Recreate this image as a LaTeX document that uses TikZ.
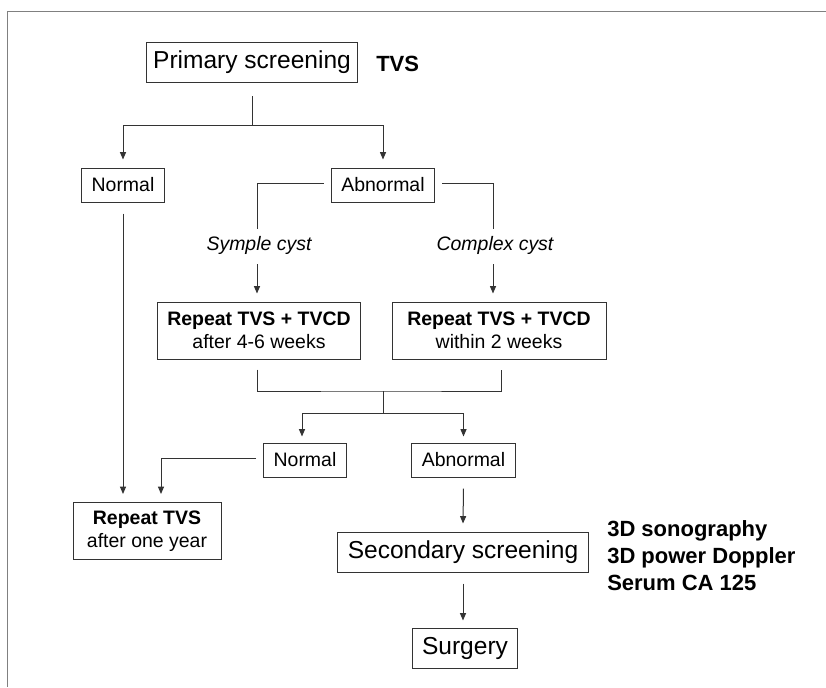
\documentclass[tikz,border=0pt]{standalone}
\usepackage{fontspec}
\setmainfont{Liberation Sans}
\usetikzlibrary{arrows.meta, calc, positioning}
\definecolor{fcline}{HTML}{333333}
\definecolor{fcframe}{HTML}{808080}
\newcommand{\txtsz}{\fontsize{14.6}{17.3}\selectfont}
\newcommand{\bigsz}{\fontsize{18.4}{21}\selectfont}
\newcommand{\notesz}{\fontsize{16.5}{20.25}\selectfont}
\tikzset{
  every picture/.style={line join=miter},
  box/.style={rectangle, draw=fcline, line width=0.75pt, font=\txtsz,
    inner xsep=7.5pt, inner ysep=0pt, minimum height=25.5pt, align=center},
  bigbox/.style={box, font=\bigsz, minimum height=30pt},
  twobox/.style={box, minimum height=42.75pt},
  case/.style={font=\txtsz\itshape, inner sep=0pt},
  note/.style={font=\notesz\bfseries, inner sep=0pt, align=left},
  link/.style={draw=fcline, line width=0.75pt},
  arrow/.style={link, -{Triangle[length=5.5pt, width=4.5pt]}},
  frame/.style={draw=fcframe, line width=0.75pt},
}
\begin{document}
\begin{tikzpicture}[x=0.75pt, y=-0.75pt]
\useasboundingbox (0,0) rectangle (826,687);
\draw[frame] (826,11) -- (7,11) -- (7,687);

% ---- first screening
\node[bigbox, inner xsep=5pt] (prim) at (252,62.5) {Primary screening};
\node[note, anchor=west] (tvs) at (376,64) {TVS};
\node[box] (norm1) at (123,185) {Normal};
\node[box] (abn1)  at (383,185) {Abnormal};

\coordinate (s1) at ($(prim.south)+(0,42)$);
\draw[link] ($(prim.south)+(0,13)$) -- (s1);
\draw[arrow] (s1) -| ($(norm1.north)+(0,-8)$);
\draw[arrow] (s1) -| ($(abn1.north)+(0,-8)$);

% ---- kind of cyst
\node[case] (simple)  at (259,245) {Symple cyst};
\node[case] (complex) at (495,245) {Complex cyst};
\node[twobox] (rep1) at (259,330.5) {\textbf{Repeat TVS + TVCD}\\after 4-6 weeks};
\node[twobox, minimum width=160.5pt] (rep2) at (499,330.5) {\textbf{Repeat TVS + TVCD}\\within 2 weeks};

\draw[link] ($(abn1.west)+(-7,-2)$) -| ($(simple.north)+(-2,-7)$);
\draw[link] ($(abn1.east)+(7,-2)$) -| ($(complex.north)+(-2,-7)$);
\draw[arrow] ($(simple.south)+(-2,10)$) -- ($(rep1.north)+(-2,-8)$);
\draw[arrow] ($(complex.south)+(-2,10)$) -- ($(rep2.north)+(-6,-8)$);

% ---- repeat results
\node[box] (norm2) at (305,460) {Normal};
\node[box] (abn2)  at (463.5,460) {Abnormal};

\coordinate (j1) at (383,391);
\coordinate (j2) at (383,413);
\draw[link] ($(rep1.south)+(-2,10)$) |- (j1) -| ($(rep2.south)+(2,10)$);
\draw[link] (j1) -- (j2);
\draw[arrow] (j2) -| ($(norm2.north)+(-3,-6)$);
\draw[arrow] (j2) -| ($(abn2.north)+(0,-6)$);

% ---- outcomes
\node[twobox, minimum width=111pt] (rep3) at (147,531) {\textbf{Repeat TVS}\\after one year};
\node[bigbox] (sec)  at (463,552) {Secondary screening};
\node[note, anchor=west] (tests) at (607,556) {3D sonography\\3D power Doppler\\Serum CA 125};
\node[bigbox] (surg) at (465,648) {Surgery};

\draw[arrow] ($(norm1.south)+(0,11)$) -- ($(norm1.south |- rep3.north)+(0,-8)$);
\draw[arrow] ($(norm2.west)+(-7,-2)$) -| ($(rep3.north)+(14,-8)$);
\draw[arrow] ($(abn2.south)+(0,11)$) -- ($(sec.north)+(0,-8)$);
\draw[arrow] ($(sec.south)+(0,11)$) -- ($(sec.south |- surg.north)+(0,-7)$);

\end{tikzpicture}
\end{document}
